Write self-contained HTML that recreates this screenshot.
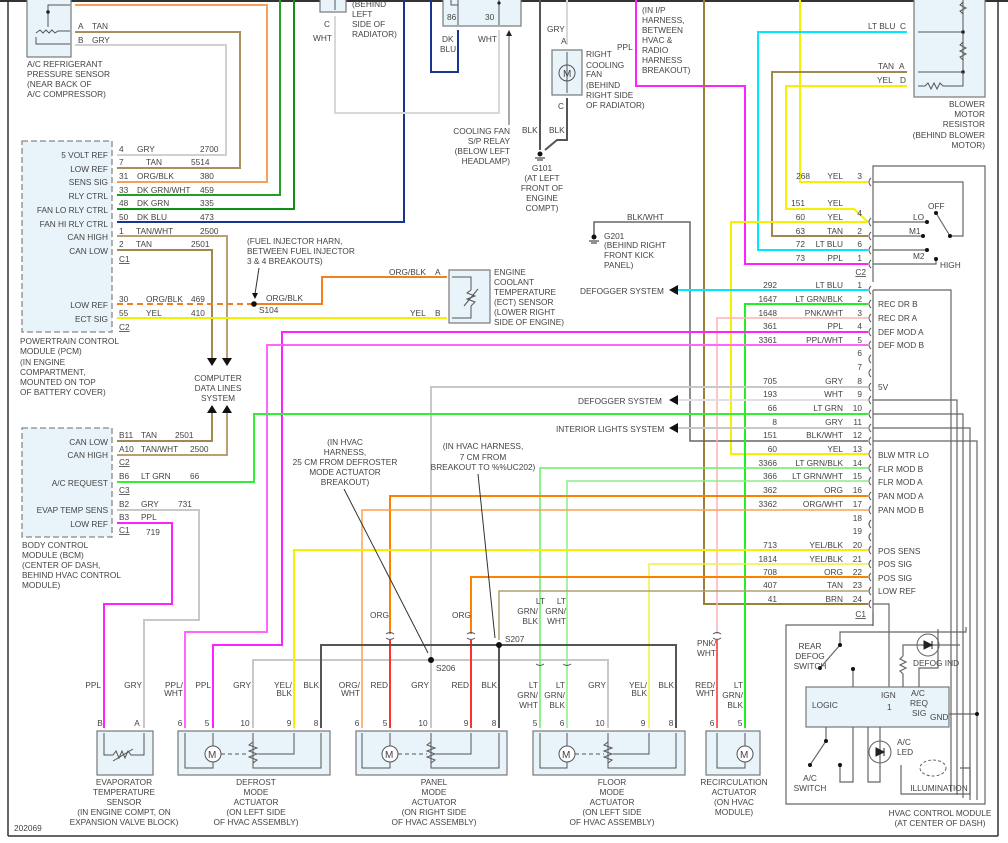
<!DOCTYPE html>
<html><head><meta charset="utf-8"><style>
html,body{margin:0;padding:0;background:#fff}
svg{display:block}
text{font-family:"Liberation Sans",sans-serif;font-size:8.3px;fill:#444}
.w{fill:none;stroke-width:2}
.t{fill:none;stroke:#555;stroke-width:1}
.b{fill:#e8f4fa;stroke:#777;stroke-width:1.2}
</style></head><body>
<svg width="1008" height="843" viewBox="0 0 1008 843" xmlns="http://www.w3.org/2000/svg">
<rect x="0" y="0" width="1008" height="2" fill="#333"/>
<line x1="8" y1="0" x2="8" y2="836" stroke="#333" stroke-width="1.5"/>
<line x1="998" y1="0" x2="998" y2="836" stroke="#333" stroke-width="1.5"/>
<line x1="8" y1="836" x2="998" y2="836" stroke="#333" stroke-width="1.5"/>

<!-- A/C refrigerant sensor -->
<rect class="b" x="27" y="-2" width="44" height="59"/>
<polyline class="t" points="70,5 48,5 48,27"/><circle cx="48" cy="12" r="1.8" fill="#222"/>
<polyline class="t" points="36,37 36,44 70,44"/><polyline class="t" points="36,33 40,30 43,33 46,30 49,33 52,30 55,33 58,31 70,31"/>
<text x="78" y="29">A</text><text x="92" y="29">TAN</text><text x="78" y="43">B</text><text x="92" y="43">GRY</text>
<text x="27" y="67">A/C REFRIGERANT</text><text x="27" y="77">PRESSURE SENSOR</text><text x="27" y="87">(NEAR BACK OF</text><text x="27" y="97">A/C COMPRESSOR)</text>

<!-- wires from PCM up -->
<polyline class="w" stroke="#f4a060" points="75,5 267,5 267,182 117,182"/>
<polyline class="w" stroke="#a8905a" points="75,32 240,32 240,168 117,168"/>
<polyline class="w" stroke="#d0d0d0" points="75,45 226,45 226,155 117,155"/>
<polyline class="w" stroke="#22a022" points="280,0 280,195 117,195"/>
<polyline class="w" stroke="#109010" points="294,0 294,209 117,209"/>
<polyline class="w" stroke="#1a3590" points="404,0 404,222 117,222"/>
<polyline class="w" stroke="#b8a070" points="117,236 227,236 227,358"/>
<polyline class="w" stroke="#a08850" points="117,250 212,250 212,358"/>
<polygon points="207,358 217,358 212,366" fill="#111"/><polygon points="222,358 232,358 227,366" fill="#111"/>
<polygon points="207,413 217,413 212,405" fill="#111"/><polygon points="222,413 232,413 227,405" fill="#111"/>
<text x="218" y="381" text-anchor="middle">COMPUTER</text><text x="218" y="391" text-anchor="middle">DATA LINES</text><text x="218" y="401" text-anchor="middle">SYSTEM</text>

<!-- PCM -->
<rect x="22" y="141" width="90" height="191" fill="#e8f4fa" stroke="#888" stroke-width="1.3" stroke-dasharray="6,3"/>
<g text-anchor="end">
<text x="108" y="158">5 VOLT REF</text><text x="108" y="172">LOW REF</text><text x="108" y="185">SENS SIG</text><text x="108" y="199">RLY CTRL</text><text x="108" y="213">FAN LO RLY CTRL</text><text x="108" y="227">FAN HI RLY CTRL</text><text x="108" y="240">CAN HIGH</text><text x="108" y="254">CAN LOW</text><text x="108" y="308">LOW REF</text><text x="108" y="322">ECT SIG</text>
</g>
<text x="119" y="152">4</text><text x="137" y="152">GRY</text><text x="200" y="152">2700</text>
<text x="119" y="165">7</text><text x="146" y="165">TAN</text><text x="191" y="165">5514</text>
<text x="119" y="179">31</text><text x="137" y="179">ORG/BLK</text><text x="200" y="179">380</text>
<text x="119" y="193">33</text><text x="137" y="193">DK GRN/WHT</text><text x="200" y="193">459</text>
<text x="119" y="206">48</text><text x="137" y="206">DK GRN</text><text x="200" y="206">335</text>
<text x="119" y="220">50</text><text x="137" y="220">DK BLU</text><text x="200" y="220">473</text>
<text x="119" y="234">1</text><text x="136" y="234">TAN/WHT</text><text x="200" y="234">2500</text>
<text x="119" y="247">2</text><text x="136" y="247">TAN</text><text x="191" y="247">2501</text>
<text x="119" y="262" text-decoration="underline">C1</text>
<text x="119" y="302">30</text><text x="146" y="302">ORG/BLK</text><text x="191" y="302">469</text>
<text x="119" y="316">55</text><text x="146" y="316">YEL</text><text x="191" y="316">410</text>
<text x="119" y="330" text-decoration="underline">C2</text>
<text x="20" y="344">POWERTRAIN CONTROL</text><text x="20" y="354">MODULE (PCM)</text><text x="20" y="365">(IN ENGINE</text><text x="20" y="375">COMPARTMENT,</text><text x="20" y="385">MOUNTED ON TOP</text><text x="20" y="395">OF BATTERY COVER)</text>

<!-- ECT -->
<line x1="117" y1="304" x2="254" y2="304" stroke="#f08020" stroke-width="2" stroke-dasharray="6,4"/>
<polyline class="w" stroke="#f08020" points="254,304 322,304 322,277 447,277"/>
<circle cx="254" cy="304" r="2.8" fill="#111"/>
<text x="259" y="313">S104</text><text x="266" y="301">ORG/BLK</text>
<text x="247" y="244">(FUEL INJECTOR HARN,</text><text x="247" y="254">BETWEEN FUEL INJECTOR</text><text x="247" y="264">3 &amp; 4 BREAKOUTS)</text>
<line x1="259" y1="268" x2="255" y2="294" stroke="#333"/><polygon points="252,293 258,293 255,299" fill="#111"/>
<polyline class="w" stroke="#f0f000" points="117,318 447,318"/>
<text x="389" y="275">ORG/BLK</text><text x="435" y="275">A</text><text x="410" y="316">YEL</text><text x="435" y="316">B</text>
<rect class="b" x="449" y="270" width="41" height="53"/>
<polyline class="t" points="452,277 471,277 471,290"/><polyline class="t" points="471,306 471,318 452,318"/>
<polyline class="t" points="471,290 467,293 475,296 467,299 475,302 471,306"/><line x1="464" y1="306" x2="478" y2="289" stroke="#555"/>
<text x="494" y="275">ENGINE</text><text x="494" y="285">COOLANT</text><text x="494" y="295">TEMPERATURE</text><text x="494" y="305">(ECT) SENSOR</text><text x="494" y="315">(LOWER RIGHT</text><text x="494" y="325">SIDE OF ENGINE)</text>

<!-- top middle relays -->
<rect class="b" x="320" y="-2" width="26" height="14"/><line x1="335" y1="0" x2="335" y2="10" stroke="#555"/>
<text x="352" y="7">(BEHIND</text><text x="352" y="17">LEFT</text><text x="352" y="27">SIDE OF</text><text x="352" y="37">RADIATOR)</text>
<text x="324" y="27">C</text><text x="313" y="41">WHT</text>
<polyline class="w" stroke="#d8d8d8" points="335,16 335,113 499,113 499,30"/>
<rect class="b" x="443" y="-2" width="78" height="28"/>
<polyline class="t" points="451,0 451,5 458,5"/><line x1="458" y1="0" x2="458" y2="25" stroke="#555"/><line x1="499" y1="0" x2="499" y2="25" stroke="#555"/>
<circle cx="499" cy="3" r="1.6" fill="#222"/>
<text x="447" y="20">86</text><text x="485" y="20">30</text>
<polyline class="w" stroke="#1a3590" points="458,30 458,72 431,72 431,0"/>
<text x="442" y="42">DK</text><text x="440" y="52">BLU</text><text x="478" y="42">WHT</text>
<line x1="509" y1="125" x2="509" y2="34" stroke="#555"/><polygon points="506,36 512,36 509,30" fill="#222"/>
<g text-anchor="end"><text x="510" y="134">COOLING FAN</text><text x="510" y="144">S/P RELAY</text><text x="510" y="154">(BELOW LEFT</text><text x="510" y="164">HEADLAMP)</text></g>
<line x1="540" y1="0" x2="540" y2="150" stroke="#555" stroke-width="2"/>
<polyline class="w" stroke="#d8d8d8" points="567,0 567,45"/>
<polyline fill="none" stroke="#555" stroke-width="2" points="567,98 567,140 557,140 545,150"/>
<text x="547" y="32">GRY</text><text x="561" y="44">A</text>
<rect class="b" x="552" y="50" width="30" height="45"/>
<circle cx="567" cy="73" r="8" fill="none" stroke="#555"/><text x="563" y="77" style="font-size:10px">M</text>
<line x1="567" y1="52" x2="567" y2="93" stroke="#555"/>
<text x="558" y="109">C</text><text x="522" y="133">BLK</text><text x="549" y="133">BLK</text>
<text x="586" y="57">RIGHT</text><text x="586" y="68">COOLING</text><text x="586" y="77">FAN</text><text x="586" y="88">(BEHIND</text><text x="586" y="98">RIGHT SIDE</text><text x="586" y="108">OF RADIATOR)</text>
<circle cx="540" cy="154" r="2.5" fill="#111"/><line x1="535" y1="158" x2="545" y2="158" stroke="#222"/><line x1="537" y1="160" x2="543" y2="160" stroke="#222"/>
<g text-anchor="middle"><text x="542" y="171">G101</text><text x="542" y="181">(AT LEFT</text><text x="542" y="191">FRONT OF</text><text x="542" y="201">ENGINE</text><text x="542" y="211">COMPT)</text></g>
<text x="617" y="50">PPL</text>
<text x="642" y="13">(IN I/P</text><text x="642" y="23">HARNESS,</text><text x="642" y="33">BETWEEN</text><text x="642" y="43">HVAC &amp;</text><text x="642" y="53">RADIO</text><text x="642" y="63">HARNESS</text><text x="642" y="73">BREAKOUT)</text>

<!-- blower resistor -->
<rect class="b" x="914" y="-2" width="71" height="99"/>
<polyline class="t" points="963,0 963,32 918,32"/><polyline class="t" points="963,32 963,72 918,72"/>
<circle cx="963" cy="32" r="1.8" fill="#222"/><circle cx="963" cy="72" r="1.8" fill="#222"/>
<polyline class="t" points="918,86 925,86 928,83 931,89 934,83 937,89 940,83 943,86 963,86 963,72"/>
<polyline class="t" points="963,2 960,5 966,8 960,11 963,14"/><polyline class="t" points="963,42 960,45 966,48 960,51 966,54 960,57 963,60"/>
<text x="868" y="29">LT BLU</text><text x="900" y="29">C</text><text x="878" y="69">TAN</text><text x="899" y="69">A</text><text x="877" y="83">YEL</text><text x="900" y="83">D</text>
<g text-anchor="end"><text x="985" y="107">BLOWER</text><text x="985" y="117">MOTOR</text><text x="985" y="127">RESISTOR</text><text x="985" y="138">(BEHIND BLOWER</text><text x="985" y="148">MOTOR)</text></g>

<!-- long wires to module -->
<polyline class="w" stroke="#ff22ff" points="636,0 636,86 745,86 745,264 868,264"/>
<polyline class="w" stroke="#9b7f3a" points="704,0 704,604 868,604"/>
<polyline class="w" stroke="#f5f000" points="800,0 800,182 868,182"/>
<polyline class="w" stroke="#00e8ff" points="907,32 758,32 758,250 868,250"/>
<polyline class="w" stroke="#a08850" points="907,72 772,72 772,236 868,236"/>
<polyline class="w" stroke="#f5f000" points="907,86 786,86 786,209 854,209 868,222"/>
<polyline class="w" stroke="#f5f000" points="868,222 731,222 731,454 868,454"/>

<!-- G201 -->
<polyline fill="none" stroke="#666" stroke-width="1.5" points="594,238 594,222 690,222 690,441 868,441"/>
<circle cx="594" cy="237" r="2.5" fill="#111"/><line x1="589" y1="241" x2="599" y2="241" stroke="#222"/><line x1="591" y1="243" x2="597" y2="243" stroke="#222"/>
<text x="627" y="220">BLK/WHT</text>
<text x="604" y="239">G201</text><text x="604" y="248">(BEHIND RIGHT</text><text x="604" y="258">FRONT KICK</text><text x="604" y="268">PANEL)</text>

<!-- C1 wires -->
<polyline class="w" stroke="#00e8ff" points="678,290 868,290"/>
<polygon points="669,290 678,285 678,295" fill="#111"/><text x="580" y="294">DEFOGGER SYSTEM</text>
<polyline class="w" stroke="#22ee22" points="745,728 745,304 868,304"/>
<polyline fill="none" stroke="#ffb0b8" stroke-width="1.5" points="717,634 717,318 868,318"/>
<polyline class="w" stroke="#ff22ff" points="868,332 282,332 282,645 213,645 213,728"/>
<polyline class="w" stroke="#ff66ff" points="868,345 267,345 267,632 185,632 185,728"/>
<polyline class="w" stroke="#c8c8c8" points="868,387 431,387 431,728"/>
<polyline class="w" stroke="#c8c8c8" points="253,728 253,660 608,660 608,728"/>
<polyline class="w" stroke="#e0e0e0" points="678,400 868,400"/>
<polygon points="669,400 678,395 678,405" fill="#111"/><text x="578" y="404">DEFOGGER SYSTEM</text>
<polyline class="w" stroke="#33ee33" points="868,414 254,414 254,482 117,482"/>
<polyline class="w" stroke="#c8c8c8" points="678,428 868,428"/>
<polygon points="669,428 678,423 678,433" fill="#111"/><text x="556" y="432">INTERIOR LIGHTS SYSTEM</text>
<polyline fill="none" stroke="#66ee66" stroke-width="1.5" points="868,468 540,468 540,728"/>
<polyline fill="none" stroke="#88ee88" stroke-width="1.5" points="868,481 567,481 567,728"/>
<polyline class="w" stroke="#ff8000" points="868,496 390,496 390,634"/>
<polyline fill="none" stroke="#ffa050" stroke-width="1.5" points="868,510 362,510 362,728"/>
<polyline class="w" stroke="#f5f000" points="868,550 294,550 294,728"/>
<polyline fill="none" stroke="#f0f040" stroke-width="1.5" points="868,564 649,564 649,728"/>
<polyline class="w" stroke="#ff8000" points="868,577 471,577 471,634"/>
<polyline fill="none" stroke="#b0a070" stroke-width="1.5" points="868,591 499,591 499,640"/>
<polyline class="w" stroke="#ff3030" points="390,640 390,728"/><polyline class="w" stroke="#ff3030" points="471,640 471,728"/>
<polyline class="w" stroke="#ff6060" points="717,640 717,728"/>
<polyline fill="none" stroke="#555" stroke-width="2" points="321,728 321,645 676,645 676,728"/><line x1="499" y1="645" x2="499" y2="728" stroke="#555" stroke-width="2"/>
<circle cx="499" cy="645" r="3" fill="#111"/><circle cx="431" cy="660" r="3" fill="#111"/>
<text x="505" y="642">S207</text><text x="436" y="671">S206</text>
<g fill="none" stroke="#555"><path d="M386,634 q4,-3 8,0 M386,638 q4,3 8,0 M467,634 q4,-3 8,0 M467,638 q4,3 8,0 M713,634 q4,-3 8,0 M713,638 q4,3 8,0 M536,664 q4,3 8,0 M563,664 q4,3 8,0"/></g>
<text x="370" y="618">ORG</text><text x="452" y="618">ORG</text><text x="697" y="646">PNK/</text><text x="697" y="656">WHT</text>
<text x="545" y="604" text-anchor="end">LT</text><text x="538" y="614" text-anchor="end">GRN/</text><text x="538" y="624" text-anchor="end">BLK</text>
<text x="566" y="604" text-anchor="end">LT</text><text x="566" y="614" text-anchor="end">GRN/</text><text x="566" y="624" text-anchor="end">WHT</text>

<!-- callouts -->
<g text-anchor="middle"><text x="345" y="445">(IN HVAC</text><text x="345" y="455">HARNESS,</text><text x="345" y="465">25 CM FROM DEFROSTER</text><text x="345" y="475">MODE ACTUATOR</text><text x="345" y="485">BREAKOUT)</text>
<text x="483" y="449">(IN HVAC HARNESS,</text><text x="483" y="460">7 CM FROM</text><text x="483" y="470">BREAKOUT TO %%UC202)</text></g>
<line x1="344" y1="489" x2="428" y2="653" stroke="#333"/><line x1="478" y1="474" x2="495" y2="638" stroke="#333"/>

<!-- C1/C2 pin labels -->
<g text-anchor="end">
<text x="810" y="179">268</text><text x="843" y="179">YEL</text><text x="862" y="179">3</text>
<text x="805" y="206">151</text><text x="843" y="206">YEL</text>
<text x="805" y="220">60</text><text x="843" y="220">YEL</text><text x="862" y="216">4</text>
<text x="805" y="234">63</text><text x="843" y="234">TAN</text><text x="862" y="234">2</text>
<text x="805" y="247">72</text><text x="843" y="247">LT BLU</text><text x="862" y="247">6</text>
<text x="805" y="261">73</text><text x="843" y="261">PPL</text><text x="862" y="261">1</text>
<text x="777" y="288">292</text><text x="843" y="288">LT BLU</text><text x="862" y="288">1</text>
<text x="777" y="302">1647</text><text x="843" y="302">LT GRN/BLK</text><text x="862" y="302">2</text>
<text x="777" y="316">1648</text><text x="843" y="316">PNK/WHT</text><text x="862" y="316">3</text>
<text x="777" y="329">361</text><text x="843" y="329">PPL</text><text x="862" y="329">4</text>
<text x="777" y="343">3361</text><text x="843" y="343">PPL/WHT</text><text x="862" y="343">5</text>
<text x="862" y="356">6</text><text x="862" y="370">7</text>
<text x="777" y="384">705</text><text x="843" y="384">GRY</text><text x="862" y="384">8</text>
<text x="777" y="397">193</text><text x="843" y="397">WHT</text><text x="862" y="397">9</text>
<text x="777" y="411">66</text><text x="843" y="411">LT GRN</text><text x="862" y="411">10</text>
<text x="777" y="425">8</text><text x="843" y="425">GRY</text><text x="862" y="425">11</text>
<text x="777" y="438">151</text><text x="843" y="438">BLK/WHT</text><text x="862" y="438">12</text>
<text x="777" y="452">60</text><text x="843" y="452">YEL</text><text x="862" y="452">13</text>
<text x="777" y="466">3366</text><text x="843" y="466">LT GRN/BLK</text><text x="862" y="466">14</text>
<text x="777" y="479">366</text><text x="843" y="479">LT GRN/WHT</text><text x="862" y="479">15</text>
<text x="777" y="493">362</text><text x="843" y="493">ORG</text><text x="862" y="493">16</text>
<text x="777" y="507">3362</text><text x="843" y="507">ORG/WHT</text><text x="862" y="507">17</text>
<text x="862" y="521">18</text><text x="862" y="534">19</text>
<text x="777" y="548">713</text><text x="843" y="548">YEL/BLK</text><text x="862" y="548">20</text>
<text x="777" y="562">1814</text><text x="843" y="562">YEL/BLK</text><text x="862" y="562">21</text>
<text x="777" y="575">708</text><text x="843" y="575">ORG</text><text x="862" y="575">22</text>
<text x="777" y="588">407</text><text x="843" y="588">TAN</text><text x="862" y="588">23</text>
<text x="777" y="602">41</text><text x="843" y="602">BRN</text><text x="862" y="602">24</text>
<text x="866" y="275" text-decoration="underline">C2</text><text x="866" y="617" text-decoration="underline">C1</text>
</g>
<g fill="none" stroke="#555">
<path d="M871,178 q-4,4 0,8 M871,218 q-4,4 0,8 M871,232 q-4,4 0,8 M871,246 q-4,4 0,8 M871,260 q-4,4 0,8 M871,286 q-4,4 0,8 M871,300 q-4,4 0,8 M871,314 q-4,4 0,8 M871,328 q-4,4 0,8 M871,341 q-4,4 0,8 M871,355 q-4,4 0,8 M871,369 q-4,4 0,8 M871,383 q-4,4 0,8 M871,396 q-4,4 0,8 M871,410 q-4,4 0,8 M871,424 q-4,4 0,8 M871,437 q-4,4 0,8 M871,450 q-4,4 0,8 M871,464 q-4,4 0,8 M871,477 q-4,4 0,8 M871,492 q-4,4 0,8 M871,506 q-4,4 0,8 M871,520 q-4,4 0,8 M871,533 q-4,4 0,8 M871,546 q-4,4 0,8 M871,560 q-4,4 0,8 M871,573 q-4,4 0,8 M871,587 q-4,4 0,8 M871,600 q-4,4 0,8"/>
</g>
<g>
<text x="878" y="307">REC DR B</text><text x="878" y="321">REC DR A</text><text x="878" y="335">DEF MOD A</text><text x="878" y="348">DEF MOD B</text><text x="878" y="390">5V</text><text x="878" y="458">BLW MTR LO</text><text x="878" y="472">FLR MOD B</text><text x="878" y="485">FLR MOD A</text><text x="878" y="499">PAN MOD A</text><text x="878" y="513">PAN MOD B</text><text x="878" y="554">POS SENS</text><text x="878" y="567">POS SIG</text><text x="878" y="581">POS SIG</text><text x="878" y="594">LOW REF</text>
</g>

<!-- HVAC control module -->
<polyline fill="none" stroke="#666" stroke-width="1.2" points="873,282 873,166 985,166 985,804 786,804 786,625 873,625 873,290"/>
<g fill="none" stroke="#666" stroke-width="1.2">
<polyline points="873,182 963,182 963,236 950,236"/><line x1="950" y1="236" x2="936" y2="213"/>
<line x1="873" y1="222" x2="927" y2="222"/><line x1="873" y1="236" x2="923" y2="236"/><line x1="873" y1="250" x2="927" y2="250"/><polyline points="873,264 936,264 936,259"/>
<polyline points="873,290 951,290 951,792"/><polyline points="873,400 957,400 957,795"/><polyline points="873,414 963,414 963,798"/><polyline points="873,428 970,428 970,800"/><polyline points="873,441 977,441 977,800"/>
<polyline points="873,604 889,604 889,687"/>
<polyline points="873,626 873,612"/>
</g>
<g fill="#111"><circle cx="936" cy="213" r="2"/><circle cx="927" cy="222" r="2"/><circle cx="923" cy="236" r="2"/><circle cx="950" cy="236" r="2"/><circle cx="927" cy="250" r="2"/><circle cx="936" cy="259" r="2"/></g>
<text x="928" y="209">OFF</text><text x="913" y="220">LO</text><text x="909" y="234">M1</text><text x="913" y="259">M2</text><text x="940" y="268">HIGH</text>
<rect class="b" x="806" y="687" width="143" height="40"/>
<text x="812" y="708">LOGIC</text><text x="881" y="698">IGN</text><text x="887" y="710">1</text><text x="911" y="696">A/C</text><text x="910" y="706">REQ</text><text x="912" y="716">SIG</text><text x="930" y="720">GND</text>
<g fill="none" stroke="#666" stroke-width="1.2">
<polyline points="966,627 966,632 840,632 840,645 820,668"/><line x1="853" y1="669" x2="853" y2="687"/>
<polyline points="960,645 903,645 903,656"/><polyline points="903,656 900,659 906,662 900,665 906,668 900,671 903,674 903,687"/>
<polyline points="938,629 938,668 919,668 919,687"/>
<line x1="949" y1="714" x2="977" y2="714"/>
<polyline points="826,727 826,741 810,765"/><polyline points="840,765 840,782 853,782 853,727"/>
<polyline points="868,727 868,782 880,782 880,727"/>
<polyline points="901,765 901,794 970,794 970,768 960,768"/>
</g>
<circle cx="928" cy="645" r="11" fill="none" stroke="#666"/><circle cx="880" cy="752" r="11" fill="none" stroke="#666"/>
<path d="M924,641 l8,4 l-8,4 z M932,641 v8" fill="#222" stroke="#222"/><path d="M876,748 l8,4 l-8,4 z M884,748 v8" fill="#222" stroke="#222"/>
<ellipse cx="933" cy="768" rx="13" ry="8" fill="none" stroke="#666" stroke-dasharray="3,2"/>
<g fill="#111"><circle cx="820" cy="668" r="2"/><circle cx="840" cy="645" r="2"/><circle cx="853" cy="669" r="2"/><circle cx="826" cy="741" r="2"/><circle cx="810" cy="765" r="2"/><circle cx="840" cy="765" r="2"/><circle cx="977" cy="714" r="2"/></g>
<g text-anchor="middle"><text x="810" y="649">REAR</text><text x="810" y="659">DEFOG</text><text x="810" y="669">SWITCH</text><text x="810" y="781">A/C</text><text x="810" y="791">SWITCH</text><text x="939" y="791">ILLUMINATION</text><text x="940" y="816">HVAC CONTROL MODULE</text><text x="940" y="826">(AT CENTER OF DASH)</text></g>
<text x="913" y="666">DEFOG IND</text><text x="897" y="745">A/C</text><text x="897" y="755">LED</text>

<!-- BCM -->
<rect x="22" y="428" width="90" height="109" fill="#e8f4fa" stroke="#888" stroke-width="1.3" stroke-dasharray="6,3"/>
<polyline class="w" stroke="#a08850" points="117,441 212,441 212,413"/>
<polyline class="w" stroke="#b8a070" points="117,455 227,455 227,413"/>
<polyline class="w" stroke="#c8c8c8" points="117,510 199,510 199,620 144,620 144,728"/>
<polyline class="w" stroke="#ff22ff" points="117,523 172,523 172,604 104,604 104,728"/>
<g text-anchor="end"><text x="108" y="445">CAN LOW</text><text x="108" y="458">CAN HIGH</text><text x="108" y="486">A/C REQUEST</text><text x="108" y="513">EVAP TEMP SENS</text><text x="108" y="527">LOW REF</text></g>
<text x="119" y="438">B11</text><text x="141" y="438">TAN</text><text x="175" y="438">2501</text>
<text x="119" y="452">A10</text><text x="141" y="452">TAN/WHT</text><text x="190" y="452">2500</text>
<text x="119" y="465" text-decoration="underline">C2</text>
<text x="119" y="479">B6</text><text x="141" y="479">LT GRN</text><text x="190" y="479">66</text>
<text x="119" y="493" text-decoration="underline">C3</text>
<text x="119" y="507">B2</text><text x="141" y="507">GRY</text><text x="178" y="507">731</text>
<text x="119" y="520">B3</text><text x="141" y="520">PPL</text>
<text x="119" y="533" text-decoration="underline">C1</text><text x="146" y="535">719</text>
<text x="22" y="548">BODY CONTROL</text><text x="22" y="558">MODULE (BCM)</text><text x="22" y="568">(CENTER OF DASH,</text><text x="22" y="578">BEHIND HVAC CONTROL</text><text x="22" y="588">MODULE)</text>

<!-- actuator wire labels -->
<g text-anchor="end">
<text x="101" y="688">PPL</text><text x="142" y="688">GRY</text>
<text x="183" y="688">PPL/</text><text x="183" y="696">WHT</text><text x="211" y="688">PPL</text><text x="251" y="688">GRY</text><text x="292" y="688">YEL/</text><text x="292" y="696">BLK</text><text x="319" y="688">BLK</text>
<text x="360" y="688">ORG/</text><text x="360" y="696">WHT</text><text x="388" y="688">RED</text><text x="429" y="688">GRY</text><text x="469" y="688">RED</text><text x="497" y="688">BLK</text>
<text x="538" y="688">LT</text><text x="538" y="698">GRN/</text><text x="538" y="708">WHT</text><text x="565" y="688">LT</text><text x="565" y="698">GRN/</text><text x="565" y="708">BLK</text><text x="606" y="688">GRY</text><text x="647" y="688">YEL/</text><text x="647" y="696">BLK</text><text x="674" y="688">BLK</text>
<text x="715" y="688">RED/</text><text x="715" y="696">WHT</text><text x="743" y="688">LT</text><text x="743" y="698">GRN/</text><text x="743" y="708">BLK</text>
</g>

<!-- actuators -->
<rect class="b" x="97" y="731" width="56" height="44"/>
<polyline class="t" points="104,733 104,755 113,755 116,751 119,758 122,751 125,758 128,751 131,755 144,755 144,733"/><line x1="113" y1="761" x2="133" y2="749" stroke="#555"/>
<g text-anchor="middle"><text x="100" y="726">B</text><text x="137" y="726">A</text>
<text x="124" y="785">EVAPORATOR</text><text x="124" y="795">TEMPERATURE</text><text x="124" y="805">SENSOR</text><text x="124" y="815">(IN ENGINE COMPT, ON</text><text x="124" y="825">EXPANSION VALVE BLOCK)</text>

<rect class="b" x="178" y="731" width="152" height="44"/>
<text x="180" y="726">6</text><text x="207" y="726">5</text><text x="245" y="726">10</text><text x="289" y="726">9</text><text x="316" y="726">8</text>
<text x="256" y="785">DEFROST</text><text x="256" y="795">MODE</text><text x="256" y="805">ACTUATOR</text><text x="256" y="815">(ON LEFT SIDE</text><text x="256" y="825">OF HVAC ASSEMBLY)</text>

<rect class="b" x="356" y="731" width="151" height="44"/>
<text x="357" y="726">6</text><text x="385" y="726">5</text><text x="423" y="726">10</text><text x="466" y="726">9</text><text x="494" y="726">8</text>
<text x="434" y="785">PANEL</text><text x="434" y="795">MODE</text><text x="434" y="805">ACTUATOR</text><text x="434" y="815">(ON RIGHT SIDE</text><text x="434" y="825">OF HVAC ASSEMBLY)</text>

<rect class="b" x="533" y="731" width="152" height="44"/>
<text x="535" y="726">5</text><text x="562" y="726">6</text><text x="600" y="726">10</text><text x="643" y="726">9</text><text x="671" y="726">8</text>
<text x="612" y="785">FLOOR</text><text x="612" y="795">MODE</text><text x="612" y="805">ACTUATOR</text><text x="612" y="815">(ON LEFT SIDE</text><text x="612" y="825">OF HVAC ASSEMBLY)</text>

<rect class="b" x="706" y="731" width="54" height="44"/>
<text x="712" y="726">6</text><text x="740" y="726">5</text>
<text x="734" y="785">RECIRCULATION</text><text x="734" y="795">ACTUATOR</text><text x="734" y="805">(ON HVAC</text><text x="734" y="815">MODULE)</text>
</g>
<g fill="none" stroke="#555">
<polyline points="185,733 185,768 213,768 213,733"/><polyline points="253,733 253,768 321,768 321,733"/><polyline points="294,733 294,754 258,754"/>
<polyline points="362,733 362,768 390,768 390,733"/><polyline points="431,733 431,768 499,768 499,733"/><polyline points="471,733 471,754 436,754"/>
<polyline points="540,733 540,768 567,768 567,733"/><polyline points="608,733 608,768 676,768 676,733"/><polyline points="649,733 649,754 613,754"/>
<polyline points="717,733 717,768 745,768 745,733"/>
<polyline points="253,742 249,745 257,748 249,751 257,754 249,757 257,760 253,763"/>
<polyline points="431,742 427,745 435,748 427,751 435,754 427,757 435,760 431,763"/>
<polyline points="608,742 604,745 612,748 604,751 612,754 604,757 612,760 608,763"/>
<line x1="221" y1="754" x2="249" y2="754" stroke-dasharray="4,3"/><line x1="398" y1="754" x2="427" y2="754" stroke-dasharray="4,3"/><line x1="575" y1="754" x2="604" y2="754" stroke-dasharray="4,3"/>
</g>
<g fill="#fff" stroke="#555"><circle cx="213" cy="754" r="8"/><circle cx="390" cy="754" r="8"/><circle cx="567" cy="754" r="8"/><circle cx="745" cy="754" r="8"/></g>
<g style="font-size:10px"><text x="208" y="758" style="font-size:10px">M</text><text x="385" y="758" style="font-size:10px">M</text><text x="562" y="758" style="font-size:10px">M</text><text x="740" y="758" style="font-size:10px">M</text></g>
<text x="14" y="831">202069</text>
</svg>
</body></html>
